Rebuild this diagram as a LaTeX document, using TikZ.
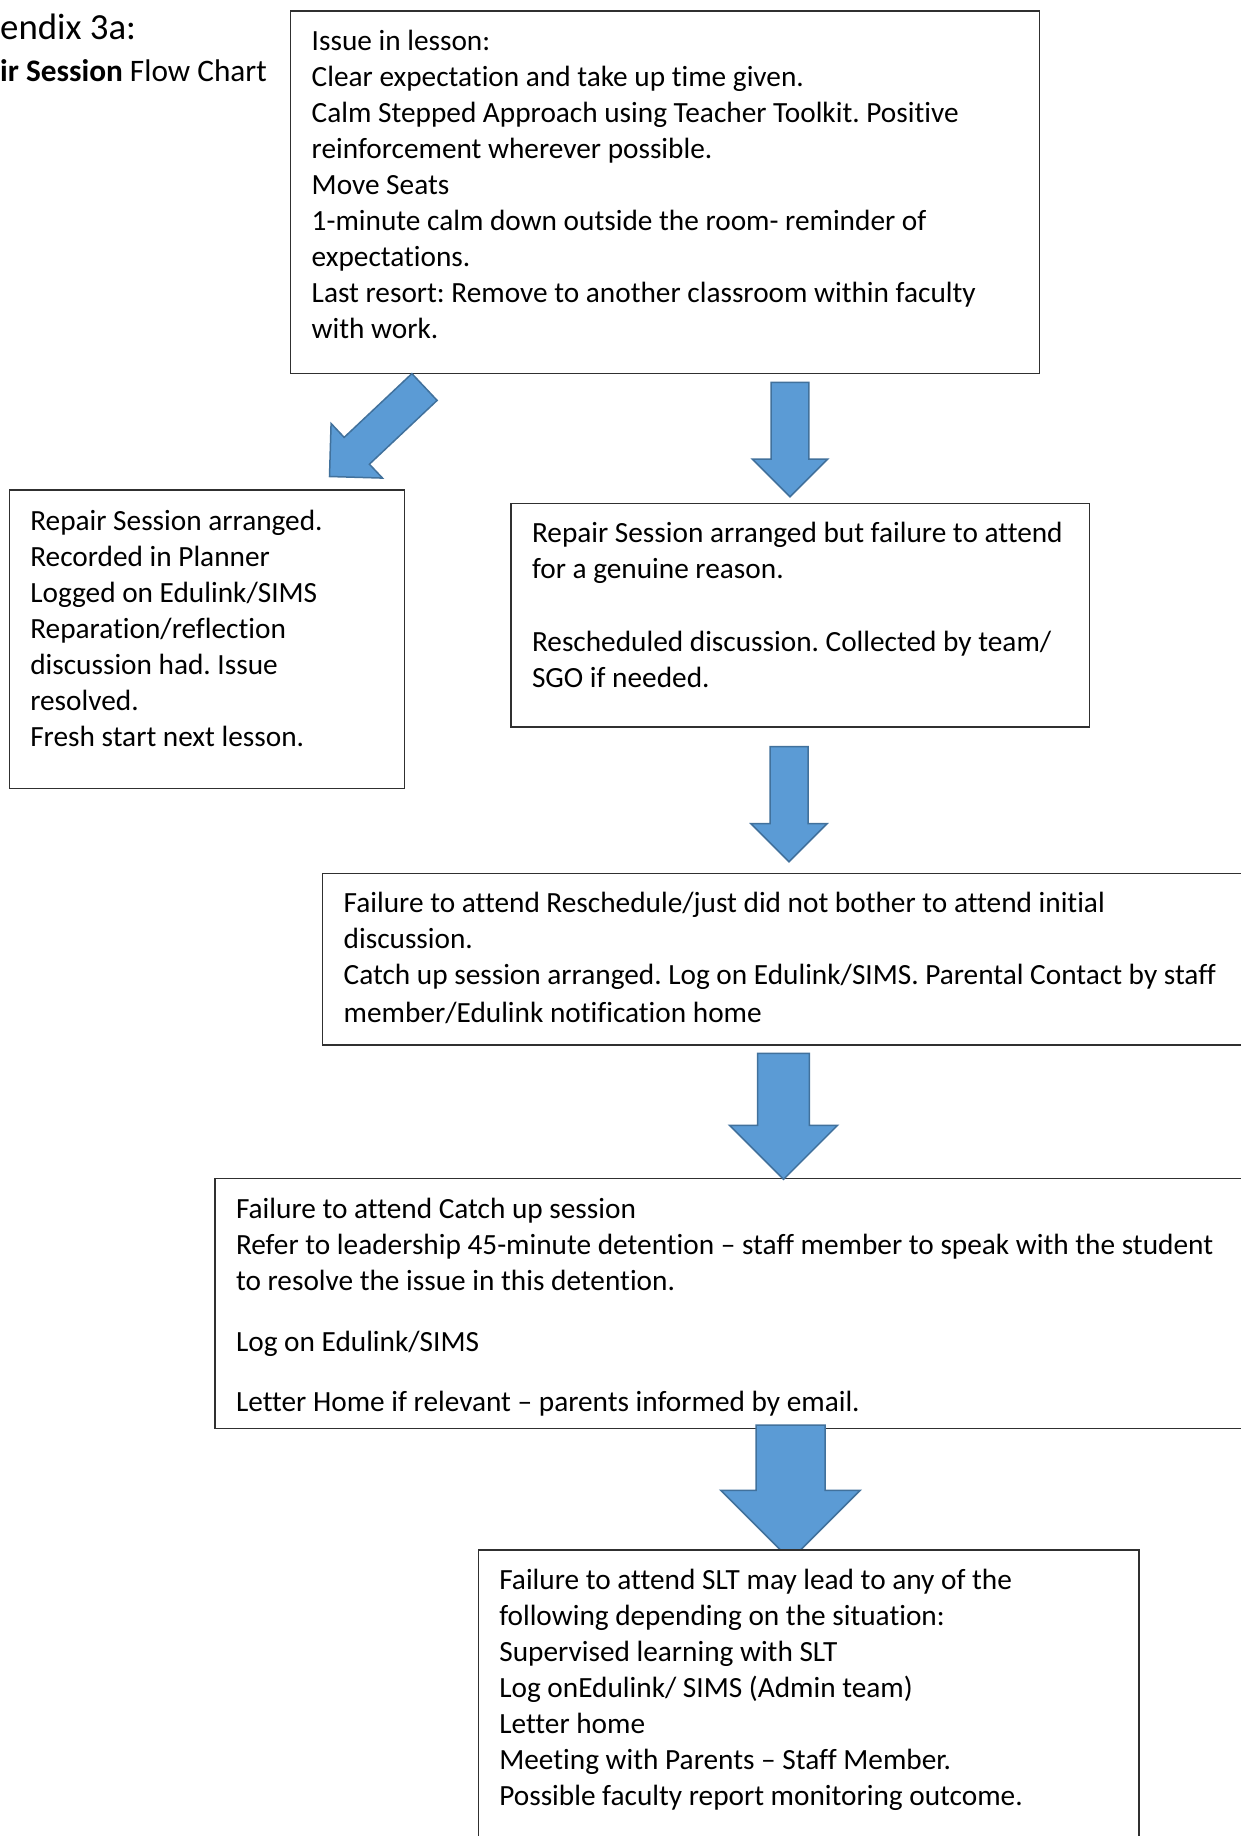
\documentclass[tikz,border=0pt]{standalone}
\usepackage{fontspec}
\setmainfont{Carlito}[Ligatures={TeX,NoCommon}]
\usetikzlibrary{calc}
\definecolor{arrfill}{HTML}{5B9BD5}
\definecolor{arrline}{HTML}{41719C}
\definecolor{boxline}{HTML}{303030}
\frenchspacing
% block arrow from back centre #1 to tip #2, shaft half width #3, head half width #4 (90 degree tip)
\newcommand\blockarrow[4]{%
  \coordinate (#2hb) at ($(#2)!#4!(#1)$);
  \filldraw[blockarr]
    ($(#1)!#3!90:(#2)$) -- ($(#2hb)!#3!90:(#2)$) -- ($(#2hb)!#4!90:(#2)$) -- (#2)
    -- ($(#2hb)!#4!-90:(#2)$) -- ($(#2hb)!#3!-90:(#2)$) -- ($(#1)!#3!-90:(#2)$) -- cycle;
}
\newcommand\boxcontent[4]{%
  \begin{minipage}[t][#2][t]{#1}\raggedright\leftskip=21pt\relax\frenchspacing
  \vspace*{#3}\strut #4\end{minipage}}
\begin{document}
\begin{tikzpicture}[x=1pt,y=-1pt,
  box/.style={draw=boxline, line width=1.3pt, fill=white, inner sep=0pt, outer sep=0pt,
    anchor=north west, font=\fontsize{29.3}{36}\selectfont},
  blockarr/.style={fill=arrfill, draw=arrline, line width=1.5pt, line join=miter},
  titleone/.style={anchor=base west, inner sep=0pt, font=\fontsize{36.8}{44}\selectfont},
  titletwo/.style={anchor=base west, inner sep=0pt, font=\fontsize{31.3}{38}\selectfont}]
\useasboundingbox (0,0) rectangle (1241,1836);
\clip (0,0) rectangle (1241,1836);
\fill[white] (0,0) rectangle (1241,1836);

% titles
\node[titleone] (t1) at (0,39.5) {endix 3a:};
\node[titletwo] (t2) at (0,81.3) {\textbf{ir Session} Flow Chart};

% boxes 1-5
\node[box] (b1) at (290.7,11) {\boxcontent{748.6pt}{362.3pt}{14pt}{%
Issue in lesson:\\
Clear expectation and take up time given.\\
Calm Stepped Approach using Teacher Toolkit. Positive\\
reinforcement wherever possible.\\
Move Seats\\
1-minute calm down outside the room- reminder of\\
expectations.\\
Last resort: Remove to another classroom within faculty\\
with work.}};

\node[box] (b2) at (9.3,490) {\boxcontent{395pt}{298.3pt}{15.6pt}{%
Repair Session arranged.\\
Recorded in Planner\\
Logged on Edulink/SIMS\\
Reparation/reflection\\
discussion had. Issue\\
resolved.\\
Fresh start next lesson.}};

\node[box] (b3) at (511,503.3) {\boxcontent{578.3pt}{223.7pt}{13.8pt}{%
Repair Session arranged but failure to attend\\
for a genuine reason.\\[37pt]
Rescheduled discussion. Collected by team/\\
SGO if needed.}};

\node[box] (b4) at (322.7,873.3) {\boxcontent{942.3pt}{171.7pt}{14.3pt}{%
Failure to attend Reschedule/just did not bother to attend initial\\
discussion.\\
Catch up session arranged. Log on Edulink/SIMS. Parental Contact by staff\\[1.5pt]
member/Edulink notification home}};

\node[box] (b5) at (215,1178.3) {\boxcontent{1050pt}{250pt}{15pt}{%
Failure to attend Catch up session\\
Refer to leadership 45-minute detention – staff member to speak with the student\\
to resolve the issue in this detention.\\[24.5pt]
Log on Edulink/SIMS\\[24.5pt]
Letter Home if relevant – parents informed by email.}};

% arrows
\coordinate (a1s) at (424.5,387);   \coordinate (a1e) at (329.5,476.5);
\coordinate (a2s) at (790,382.3);   \coordinate (a2e) at (790,496.7);
\coordinate (a3s) at (789,746.7);   \coordinate (a3e) at (789,861.7);
\coordinate (a4s) at (783.5,1053.3); \coordinate (a4e) at (783.5,1179.3);
\coordinate (a5s) at (790.5,1425);  \coordinate (a5e) at (790.5,1560);
\blockarrow{a1s}{a1e}{18.4pt}{37.5pt}
\blockarrow{a2s}{a2e}{18.9pt}{37.7pt}
\blockarrow{a3s}{a3e}{19pt}{38pt}
\blockarrow{a4s}{a4e}{25.9pt}{54pt}
\blockarrow{a5s}{a5e}{34.5pt}{69.7pt}

% box 6 (over the last arrow tip)
\node[box] (b6) at (478.3,1550) {\boxcontent{660.7pt}{310pt}{13.8pt}{%
Failure to attend SLT may lead to any of the\\
following depending on the situation:\\
Supervised learning with SLT\\
Log onEdulink/ SIMS (Admin team)\\
Letter home\\
Meeting with Parents – Staff Member.\\
Possible faculty report monitoring outcome.}};
\end{tikzpicture}
\end{document}
